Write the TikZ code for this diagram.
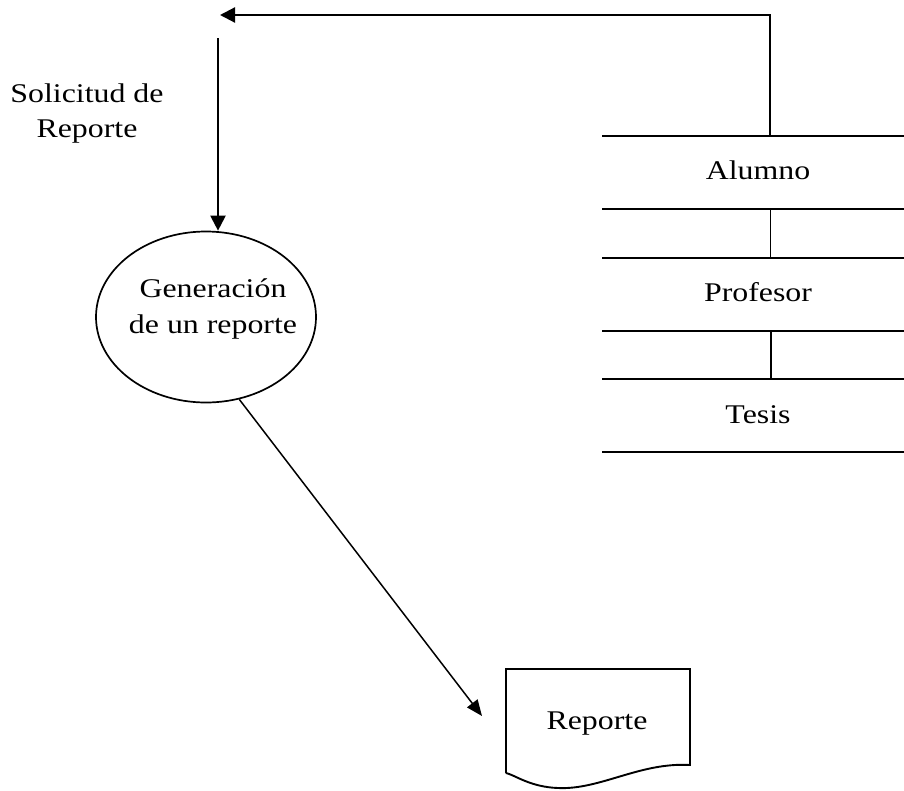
\documentclass[tikz,border=0pt]{standalone}
\usepackage{fontspec}
\setmainfont[FakeStretch=1.18]{Liberation Serif}
\usetikzlibrary{arrows.meta,shapes.geometric}
\begin{document}
\begin{tikzpicture}[x=1pt,y=-1pt,
  line/.style={line width=2.2pt},
  arr/.style={line width=2.2pt,-{Triangle[length=15pt,width=15pt]}},
  thinarr/.style={line width=1.5pt,-{Triangle[length=16pt,width=13pt]}},
  lbl/.style={font=\fontsize{27}{36}\selectfont,align=center,inner sep=0pt},
  procbox/.style={ellipse,draw,line width=1.7pt,minimum width=220pt,minimum height=171pt,inner sep=0pt}]
\useasboundingbox[fill=white] (0,0) rectangle (904,790);

% process
\node[procbox] (gen) at (206,317) {};
\node[lbl] (gentxt) at (213,309) {Generación\\de un reporte};

% incoming request
\coordinate (solstart) at (218,38);
\draw[arr] (solstart) -- (solstart |- gen.north);
\node[lbl,font=\fontsize{27}{35}\selectfont] (sol) at (87,114) {Solicitud de\\Reporte};

% data stores
\draw[line] (602,136) -- (904,136);
\draw[line] (602,209) -- (904,209);
\draw[line] (602,258) -- (904,258);
\draw[line] (602,331) -- (904,331);
\draw[line] (602,379) -- (904,379);
\draw[line] (602,452) -- (904,452);
\draw[line width=1pt] (770,209) -- (770,258);
\draw[line] (771,331) -- (771,379);
\node[lbl] (alumno) at (758,170) {Alumno};
\node[lbl] (profesor) at (758,292) {Profesor};
\node[lbl] (tesis) at (758,415) {Tesis};

% flow from the stores back to the request
\coordinate (st1) at (770,136);
\coordinate (toptip) at (220,15);
\draw[arr] (st1) |- (toptip);

% report document
\node[lbl] (rep) at (597,724) {Reporte};
\draw[line width=1.9pt] (506,773) -- (506,669) -- (690,669) -- (690,765)
  .. controls (640,762) and (600,790) .. (558,788)
  .. controls (530,787) and (515,775) .. (506,773);
\coordinate (reptip) at (482,716);
\draw[thinarr] (gen.-68) -- (reptip);
\end{tikzpicture}
\end{document}
